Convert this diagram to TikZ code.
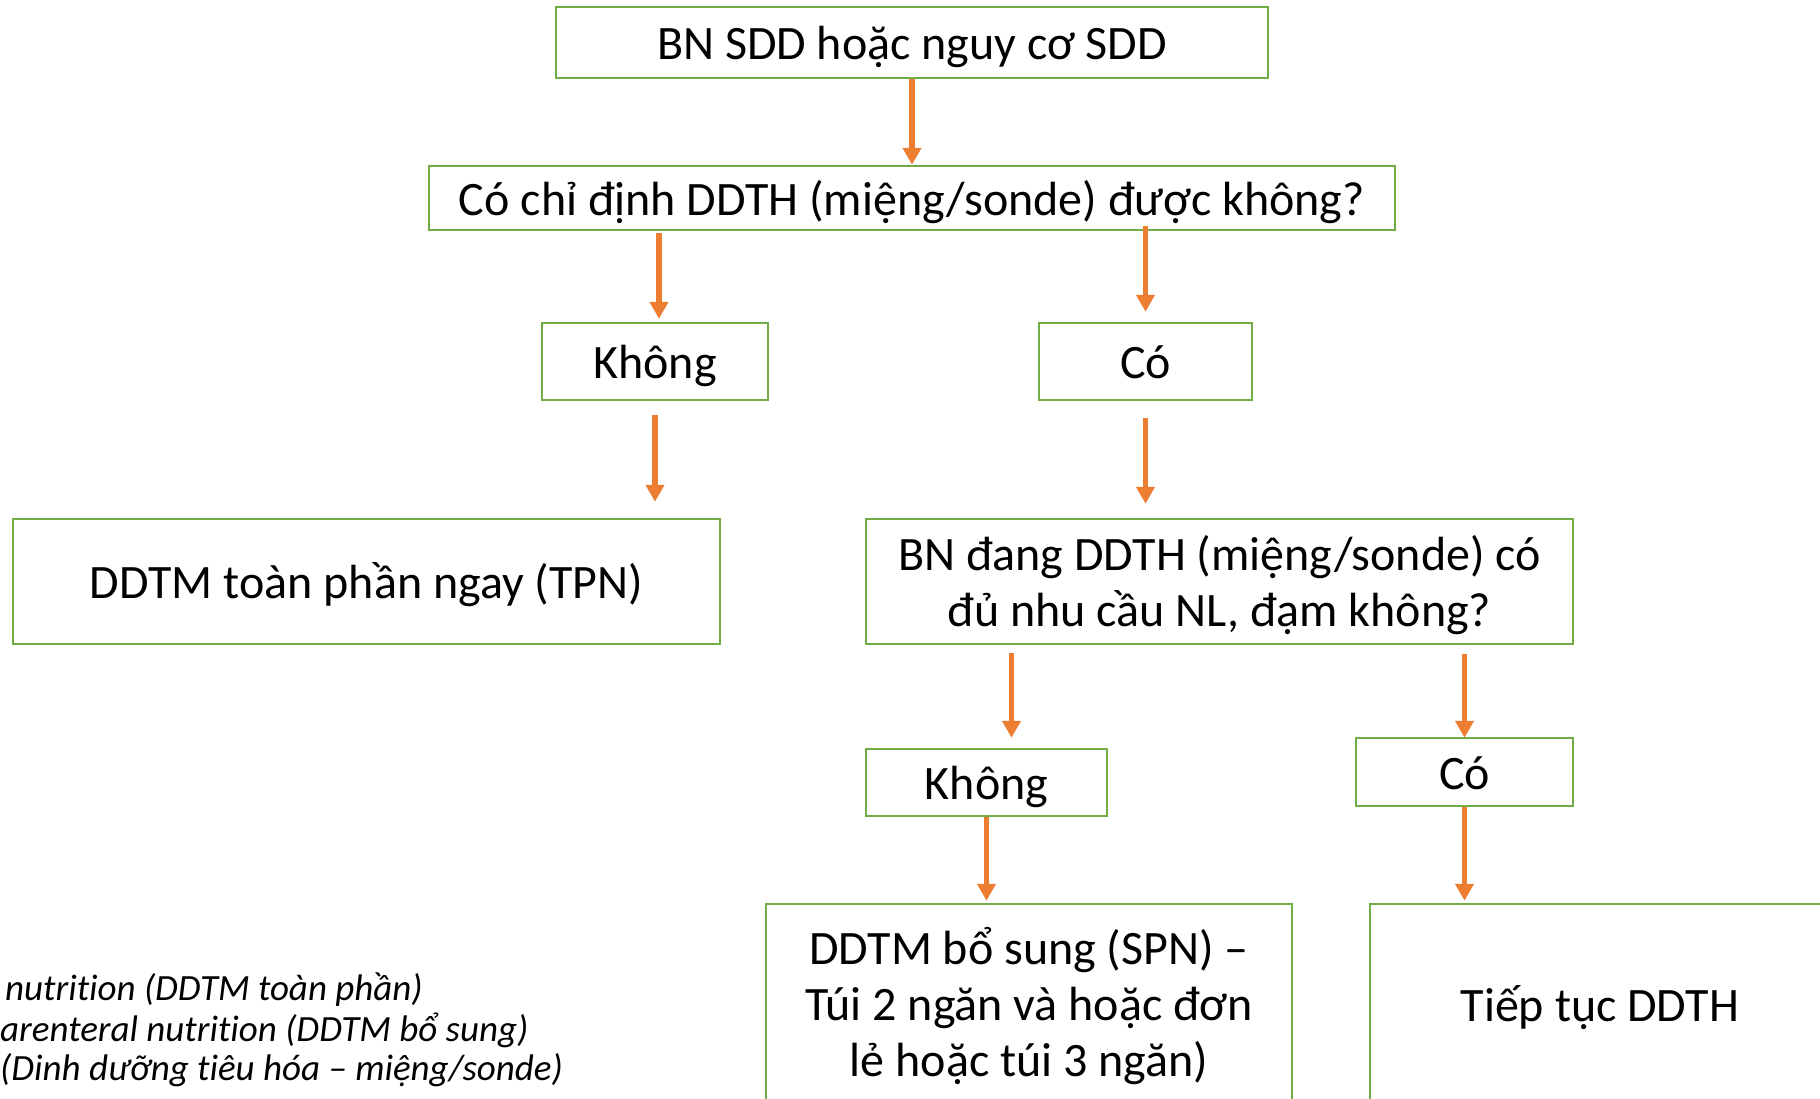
\documentclass[tikz,border=0pt]{standalone}
\usepackage{fontspec}
\setmainfont{Carlito}[Ligatures=NoCommon]
\usetikzlibrary{arrows.meta,calc}
\definecolor{gr}{HTML}{70AD47}
\definecolor{og}{HTML}{ED7D31}
\begin{document}
\begin{tikzpicture}[x=1pt,y=-1pt,
  box/.style={draw=gr, line width=2.5pt, fill=white, inner sep=0pt, font=\fontsize{48}{56}\selectfont, align=center},
  one/.style={text height=40pt, text depth=6pt},
  txt/.style={inner sep=0pt, font=\fontsize{48}{56}\selectfont, align=center},
  arr/.style={draw=og, line width=5.5pt, -{Triangle[length=17pt,width=18pt]}},
  legend/.style={inner sep=0pt, font=\fontsize{37}{44}\selectfont\itshape}]
\useasboundingbox (0,0) rectangle (1820,1098);
\clip (0,0) rectangle (1820,1098);
\node[box,one,minimum width=712pt,minimum height=71pt] (b1) at (912,42.5) {BN SDD hoặc nguy cơ SDD};
\node[box,one,minimum width=966pt,minimum height=64pt] (b2) at (912,198) {Có chỉ định DDTH (miệng/sonde) được không?};
\node[box,one,minimum width=226pt,minimum height=77pt] (k1) at (655,361.5) {Không};
\node[box,one,minimum width=213pt,minimum height=77pt] (c1) at (1145.5,361.5) {Có};
\node[box,one,minimum width=707pt,minimum height=125pt] (tpn) at (366.5,581.5) {DDTM toàn phần ngay (TPN)};
\node[box,minimum width=707pt,minimum height=125pt] (q2) at (1219.5,581.5) {};
\node[txt] (q2t) at ($(q2.center)+(0,3.5)$) {BN đang DDTH (miệng/sonde) có\\đủ nhu cầu NL, đạm không?};
\node[box,one,minimum width=241pt,minimum height=67pt] (k2) at (986.5,782.5) {Không};
\node[box,one,minimum width=217pt,minimum height=68pt] (c2) at (1464.5,772) {Có};
\node[box,minimum width=526pt,minimum height=204pt] (spn) at (1029,1006) {DDTM bổ sung (SPN) –\\Túi 2 ngăn và hoặc đơn\\lẻ hoặc túi 3 ngăn)};
\node[box,text height=38pt,text depth=8pt,minimum width=460pt,minimum height=204pt] (tt) at (1600,1006) {Tiếp tục DDTH};
\draw[arr] (b1.south) -- (b2.north);
\draw[arr,shorten <=2pt,shorten >=3pt] ($(b2.south -| k1.north)+(4,0)$) -- ($(k1.north)+(4,0)$);
\draw[arr,shorten <=-5pt,shorten >=10pt] (b2.south -| c1.north) -- (c1.north);
\draw[arr,shorten <=14pt,shorten >=16pt] (k1.south) -- (k1.south |- tpn.north);
\draw[arr,shorten <=17pt,shorten >=14pt] (c1.south) -- (c1.south |- q2.north);
\draw[arr,shorten <=8pt,shorten >=10pt] ($(q2.south -| k2.north)+(25,0)$) -- ($(k2.north)+(25,0)$);
\draw[arr,shorten <=9pt,shorten >=-1pt] (q2.south -| c2.north) -- (c2.north);
\draw[arr,shorten >=2pt] (k2.south) -- (k2.south |- spn.north);
\draw[arr,shorten >=2pt] (c2.south) -- (c2.south |- tt.north);
\node[legend,anchor=base west] (l1) at (5,1000) {nutrition (DDTM toàn phần)};
\node[legend,anchor=base west] (l2) at (0,1041) {arenteral nutrition (DDTM bổ sung)};
\node[legend,anchor=base west] (l3) at (0,1080) {(Dinh dưỡng tiêu hóa – miệng/sonde)};
\end{tikzpicture}
\end{document}
